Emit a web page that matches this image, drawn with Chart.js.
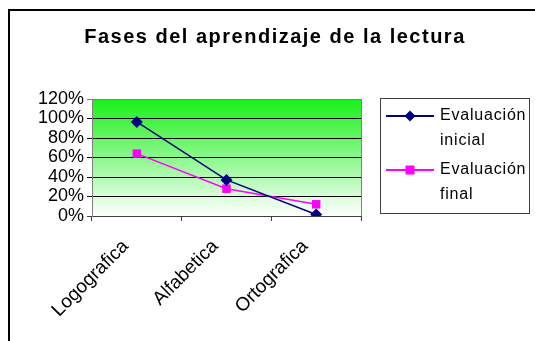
<!DOCTYPE html>
<html>
<head>
<meta charset="utf-8">
<script src="https://cdn.jsdelivr.net/npm/chart.js@4"></script>
<style>
  html, body { margin: 0; padding: 0; background: #fff; }
  #wrap { width: 535px; height: 341px; position: relative; }
</style>
</head>
<body>
<div id="wrap"><canvas id="fasesChart" width="535" height="341"></canvas></div>
<script>
const chartTitle = 'Fases del aprendizaje de la lectura'
const categories = ['Logografica', 'Alfabetica', 'Ortografica']
const evalInicial = [0.965, 0.37, 0.015]
const evalFinal = [0.64, 0.28, 0.12]
const seriesNames = [['Evaluación', 'inicial'], ['Evaluación', 'final']]
const yTicks = [0, 0.2, 0.4, 0.6, 0.8, 1.0, 1.2]

const FONT = '"Liberation Sans", Arial, sans-serif'

// background gradient, frame, title and the boxed legend
const decor = {
    id: 'decor',
    beforeInit(chart) {
        chart.ctx.letterSpacing = '0.8px'
    },
    beforeDatasetsDraw(chart) {
        const { ctx, chartArea: a } = chart
        ctx.save()
        const g = ctx.createLinearGradient(0, a.top, 0, a.bottom)
        g.addColorStop(0, 'rgb(24,240,24)')
        g.addColorStop(1, 'rgb(255,255,255)')
        ctx.fillStyle = g
        ctx.globalCompositeOperation = 'destination-over'
        ctx.fillRect(a.left, a.top, a.right - a.left, a.bottom - a.top)
        ctx.restore()
    },
    afterDraw(chart) {
        const { ctx, chartArea: a } = chart
        ctx.save()
        // right border of plot area
        ctx.strokeStyle = '#808080'
        ctx.lineWidth = 1
        ctx.beginPath()
        ctx.moveTo(a.right + 0.5, a.top)
        ctx.lineTo(a.right + 0.5, a.bottom)
        ctx.stroke()

        // outer frame
        ctx.strokeStyle = '#000'
        ctx.lineWidth = 2
        ctx.beginPath()
        ctx.moveTo(9, 345)
        ctx.lineTo(9, 10)
        ctx.lineTo(540, 10)
        ctx.stroke()

        // title
        ctx.fillStyle = '#000'
        ctx.font = 'bold 20px ' + FONT
        ctx.letterSpacing = '1.5px'
        ctx.textAlign = 'center'
        ctx.textBaseline = 'middle'
        ctx.fillText(chartTitle, 275, 37)
        ctx.letterSpacing = '0.8px'

        // legend
        ctx.strokeStyle = '#404040'
        ctx.lineWidth = 1
        ctx.strokeRect(380.5, 98.5, 149, 115)
        ctx.font = '16px ' + FONT
        ctx.textAlign = 'left'
        ctx.textBaseline = 'middle'
        chart.data.datasets.forEach((ds, i) => {
            const y = 116 + i * 54
            ctx.strokeStyle = ds.borderColor
            ctx.lineWidth = 2
            ctx.beginPath()
            ctx.moveTo(386, y)
            ctx.lineTo(434, y)
            ctx.stroke()
            ctx.fillStyle = ds.backgroundColor
            ctx.beginPath()
            if (ds.pointStyle === 'rectRot') {
                ctx.moveTo(410, y - 5.5)
                ctx.lineTo(415.5, y)
                ctx.lineTo(410, y + 5.5)
                ctx.lineTo(404.5, y)
                ctx.closePath()
            } else {
                ctx.rect(405.5, y - 4.5, 9, 9)
            }
            ctx.fill()
            ctx.fillStyle = '#000'
            seriesNames[i].forEach((t, k) => ctx.fillText(t, 440, y + k * 25))
        })
        ctx.restore()
    }
}

new Chart(document.getElementById('fasesChart'), {
    type: 'line',
    data: {
        labels: categories,
        datasets: [{
            label: seriesNames[0].join(' '),
            data: evalInicial,
            borderColor: '#000080',
            backgroundColor: '#000080',
            borderWidth: 1.5,
            pointStyle: 'rectRot',
            pointRadius: 6,
            pointBorderWidth: 0,
            tension: 0
        }, {
            label: seriesNames[1].join(' '),
            data: evalFinal,
            borderColor: '#FF00FF',
            backgroundColor: '#FF00FF',
            borderWidth: 1.5,
            pointStyle: 'rect',
            pointRadius: 6,
            pointBorderWidth: 0,
            tension: 0
        }]
    },
    options: {
        responsive: false,
        animation: false,
        layout: { padding: { left: 0, top: 99, right: 174, bottom: 0 } },
        plugins: {
            legend: { display: false },
            title: { display: false },
            tooltip: { enabled: false }
        },
        scales: {
            x: {
                offset: true,
                afterFit: s => { s.height = 125 },
                grid: {
                    offset: true,
                    drawOnChartArea: false,
                    tickLength: 5,
                    color: '#404040'
                },
                border: { color: '#404040', width: 1 },
                ticks: {
                    maxRotation: 45,
                    minRotation: 45,
                    color: '#000',
                    padding: 3,
                    font: { family: FONT, size: 19 },
                    // trailing spaces push the rotated label down-left of its tick, as in the original
                    callback: function (v) { return this.getLabelForValue(v) + '   ' }
                }
            },
            y: {
                min: 0,
                max: 1.2,
                afterFit: s => { s.width = 92 },
                afterBuildTicks: s => { s.ticks = yTicks.map(v => ({ value: v })) },
                grid: {
                    tickLength: 5,
                    color: ctx => ctx.tick && ctx.tick.value >= 1.19 ? '#808080' : (ctx.tick && ctx.tick.value === 0 ? '#404040' : '#000'),
                    lineWidth: 1
                },
                border: { color: '#808080', width: 1 },
                ticks: {
                    autoSkip: false,
                    color: '#000',
                    padding: 3,
                    font: { family: FONT, size: 18 },
                    callback: v => Math.round(v * 100) + '%'
                }
            }
        }
    },
    plugins: [decor]
})
</script>
</body>
</html>
